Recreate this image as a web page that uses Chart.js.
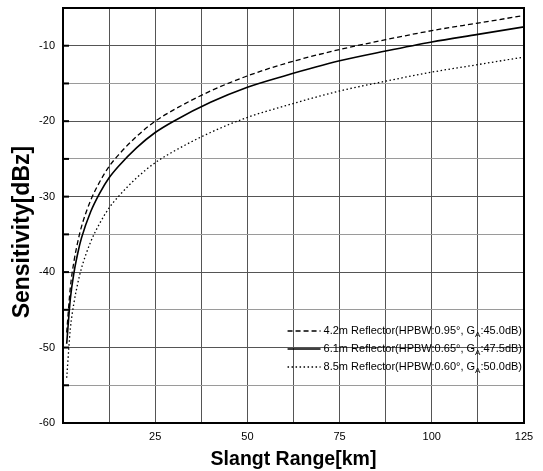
<!DOCTYPE html>
<html>
<head>
<meta charset="utf-8">
<script src="https://cdn.jsdelivr.net/npm/chart.js@4"></script>
<style>
	html, body { margin: 0; padding: 0; background: #fff; }
	.chart-box { width: 543px; height: 471px; }
</style>
</head>
<body>
<div class="chart-box"><canvas id="sensitivity-chart"></canvas></div>
<script>
// slant range sample points [km]
const ranges = [1, 2, 3, 4, 5, 7.5, 10, 12.5, 15, 20, 25, 30, 40, 50, 60, 75, 87.5, 100, 112.5, 125];
const sens42 = [-48, -42, -38.5, -36, -34, -30.5, -28, -26, -24.5, -22, -20, -18.5, -16, -14, -12.4, -10.5, -9.2, -8, -7, -6];
const sens61 = [-49.5, -43.5, -40, -37.5, -35.5, -32, -29.5, -27.5, -26, -23.5, -21.5, -20, -17.5, -15.5, -14, -12, -10.7, -9.5, -8.5, -7.5];
const sens85 = [-54, -47.5, -44, -41.5, -39.5, -36, -33.5, -31.5, -30, -27.5, -25.5, -24, -21.5, -19.5, -18, -16, -14.7, -13.5, -12.5, -11.5];
const labels = [
	'4.2m Reflector(HPBW:0.95°, G_A:45.0dB)',
	'6.1m Reflector(HPBW:0.65°, G_A:47.5dB)',
	'8.5m Reflector(HPBW:0.60°, G_A:50.0dB)',
];
const xTickLabels = [25, 50, 75, 100, 125];
const yTickLabels = [-60, -50, -40, -30, -20, -10];
const yTitle = 'Sensitivity[dBz]';

const toPoints = (ys) => ranges.map((r, i) => ({ x: r, y: ys[i] }));

const frame = {
	id: 'frame',
	afterDatasetsDraw(chart) {
		const { ctx, chartArea: a } = chart;
		ctx.save();
		ctx.strokeStyle = '#000';
		ctx.lineWidth = 2;
		ctx.strokeRect(a.left, a.top, a.right - a.left, a.bottom - a.top);
		// short ticks on the left edge
		const y = chart.scales.y;
		for (let v = -55; v <= -10; v += 5) {
			const py = y.getPixelForValue(v);
			ctx.beginPath();
			ctx.moveTo(a.left, py);
			ctx.lineTo(a.left + 6, py);
			ctx.stroke();
		}
		// y axis title, sits a bit below the middle in the original
		ctx.translate(23, a.top + (a.bottom - a.top) * 0.54);
		ctx.rotate(-Math.PI / 2);
		ctx.fillStyle = '#000';
		ctx.font = 'bold 23px "Liberation Sans", Arial, sans-serif';
		ctx.textAlign = 'center';
		ctx.textBaseline = 'middle';
		ctx.fillText(yTitle, 0, 0);
		ctx.restore();
	},
};

const legendBox = {
	id: 'legendBox',
	afterDraw(chart) {
		const { ctx, chartArea: a } = chart;
		ctx.save();
		ctx.textBaseline = 'middle';
		chart.data.datasets.forEach((ds, i) => {
			const rowY = a.bottom - 92 + i * 18;
			const parts = ds.label.split('_A');
			ctx.font = '8px "Liberation Sans", Arial, sans-serif';
			const subW = ctx.measureText('A').width;
			ctx.font = '11px "Liberation Sans", Arial, sans-serif';
			const textW = ctx.measureText(parts[0]).width + subW + ctx.measureText(parts[1]).width;
			const textX = a.right - 2 - textW;
			ctx.strokeStyle = '#000';
			ctx.lineWidth = ds.borderWidth;
			ctx.setLineDash(ds.borderDash || []);
			ctx.beginPath();
			ctx.moveTo(textX - 36, rowY);
			ctx.lineTo(textX - 3, rowY);
			ctx.stroke();
			ctx.setLineDash([]);
			ctx.fillStyle = '#000';
			ctx.fillText(parts[0], textX, rowY);
			let x = textX + ctx.measureText(parts[0]).width;
			ctx.font = '8px "Liberation Sans", Arial, sans-serif';
			ctx.fillText('A', x, rowY + 4);
			x += subW;
			ctx.font = '11px "Liberation Sans", Arial, sans-serif';
			ctx.fillText(parts[1], x, rowY);
		});
		ctx.restore();
	},
};

new Chart(document.getElementById('sensitivity-chart'), {
	type: 'line',
	data: {
		datasets: [
			{ label: labels[0], data: toPoints(sens42), borderColor: '#000', borderWidth: 1.3, borderDash: [5, 3] },
			{ label: labels[1], data: toPoints(sens61), borderColor: '#000', borderWidth: 1.6 },
			{ label: labels[2], data: toPoints(sens85), borderColor: '#000', borderWidth: 1.3, borderDash: [1.5, 2.5] },
		],
	},
	options: {
		responsive: true,
		maintainAspectRatio: false,
		animation: false,
		layout: { padding: { top: 8, right: 19, left: 0, bottom: 0 } },
		elements: {
			point: { radius: 0 },
			line: { cubicInterpolationMode: 'monotone' },
		},
		plugins: {
			legend: { display: false },
			tooltip: { enabled: false },
		},
		scales: {
			x: {
				type: 'linear',
				min: 0,
				max: 125,
				afterFit: (s) => { s.height = 48; },
				border: { display: false },
				grid: { color: '#555', lineWidth: 1, drawTicks: false },
				ticks: {
					stepSize: 12.5,
					padding: 7,
					autoSkip: false,
					maxRotation: 0,
					color: '#000',
					font: { size: 11, family: '"Liberation Sans", Arial, sans-serif' },
					callback: (v) => (xTickLabels.includes(v) ? String(v) : ''),
				},
				title: {
					display: true,
					text: 'Slangt Range[km]',
					color: '#000',
					padding: { top: 0, bottom: 0 },
					font: { size: 19.5, weight: 'bold', family: '"Liberation Sans", Arial, sans-serif' },
				},
			},
			y: {
				min: -60,
				max: -5,
				afterFit: (s) => { s.width = 63; s.paddingTop = 0; s.paddingBottom = 0; },
				border: { display: false },
				grid: {
					drawTicks: false,
					lineWidth: 1,
					color: (c) => (c.tick && c.tick.value % 10 === 0 ? '#555' : '#9a9a9a'),
				},
				ticks: {
					stepSize: 5,
					padding: 8,
					autoSkip: false,
					color: '#000',
					font: { size: 11, family: '"Liberation Sans", Arial, sans-serif' },
					callback: (v) => (yTickLabels.includes(v) ? String(v) : ''),
				},
			},
		},
	},
	plugins: [frame, legendBox],
});
</script>
</body>
</html>
